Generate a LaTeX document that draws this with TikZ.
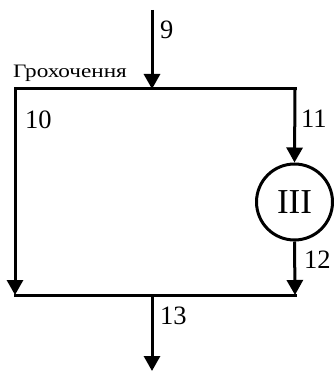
\documentclass[tikz,border=0pt]{standalone}
\usepackage{fontspec}
\setmainfont{Liberation Serif}
\usetikzlibrary{arrows.meta}
\begin{document}
\begin{tikzpicture}[x=1pt,y=-1pt,
  flow/.style={line width=3pt},
  arr/.style={line width=3pt,-{Triangle[width=16pt,length=15pt]}},
  num/.style={font=\fontsize{26.5}{26.5}\selectfont,inner sep=0pt,anchor=west},
  unit/.style={circle,draw,line width=3pt,minimum size=76pt,inner sep=0pt,font=\fontsize{35}{35}\selectfont}]
\useasboundingbox (0,0) rectangle (333,371);
\coordinate (in) at (152,10);
\coordinate (tm) at (152,89);
\coordinate (tl) at (15,89);
\coordinate (tr) at (295,89);
\coordinate (bl) at (15,295);
\coordinate (br) at (295,295);
\coordinate (bm) at (152,295);
\coordinate (out) at (152,371);
\node[unit] (u3) at (294.5,202) {III};
\draw[arr] (in) -- (tm);
\draw[flow,line cap=rect] (tl) -- (tr);
\draw[arr] (tl) -- (bl);
\draw[arr] (tr) -- (u3.north);
\draw[arr] (u3.south) -- (br);
\draw[flow,line cap=rect] (bl) -- (br);
\draw[arr] (bm) -- (out);
\node[anchor=base west,inner sep=0pt,font=\fontsize{19}{19}\selectfont\addfontfeature{FakeStretch=1.22}] (lab) at (13,78) {Грохочення};
\node[num] (n9) at (160,30) {9};
\node[num] (n10) at (25,120) {10};
\node[num] (n11) at (301,119) {11};
\node[num] (n12) at (304,260) {12};
\node[num] (n13) at (160,316) {13};
\end{tikzpicture}
\end{document}
